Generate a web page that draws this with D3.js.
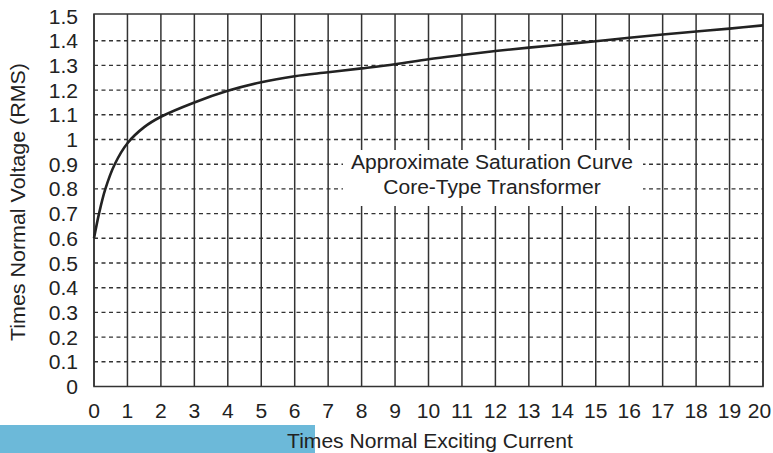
<!DOCTYPE html>
<html><head><meta charset="utf-8">
<script src="https://cdn.jsdelivr.net/npm/d3@7"></script>
<style>body{margin:0;background:#fff}svg{display:block}</style>
</head><body><svg id="c" width="773" height="453" font-family="Liberation Sans, Arial, sans-serif"></svg>
<script>
const xTicks = d3.range(0, 21);
const yTicks = [0,0.1,0.2,0.3,0.4,0.5,0.6,0.7,0.8,0.9,1,1.1,1.2,1.3,1.4,1.5];
const yTickLabels = ["0","0.1","0.2","0.3","0.4","0.5","0.6","0.7","0.8","0.9","1","1.1","1.2","1.3","1.4","1.5"];
const curveX = [0,0.15,0.34,0.62,1,1.5,2,3,4,5,6,7,8,9,10,11,12,13,14,15,16,17,18,19,20];
const curveY = [0.6,0.7,0.8,0.9,0.985,1.05,1.092,1.15,1.197,1.232,1.256,1.272,1.288,1.305,1.325,1.342,1.358,1.372,1.385,1.398,1.412,1.425,1.437,1.449,1.462];
const xTitle = "Times Normal Exciting Current";
const yTitle = "Times Normal Voltage (RMS)";
const note = ["Approximate Saturation Curve","Core-Type Transformer"];

const svg = d3.select("#c");
const x = d3.scaleLinear().domain([0,20]).range([94,763]);
const y = d3.scaleLinear().domain([0,1.5]).range([386.5,16]);
const fs = 19.5, sx = 1.08;

svg.append("rect").attr("x",0).attr("y",425).attr("width",315).attr("height",28).attr("fill","#6cb9d9");

const g = svg.append("g");
g.selectAll("line.h").data(yTicks.filter(d=>d>0 && d<1.5)).join("line")
  .attr("x1",x(0)).attr("x2",x(20)).attr("y1",d=>y(d)).attr("y2",d=>y(d))
  .attr("stroke","#333").attr("stroke-width",1.4).attr("stroke-dasharray","4,3.5");
g.selectAll("line.v").data(xTicks).join("line")
  .attr("x1",d=>x(d)).attr("x2",d=>x(d)).attr("y1",y(1.5)-2).attr("y2",y(0))
  .attr("stroke","#333").attr("stroke-width",1.5);
g.append("rect").attr("x",x(0)).attr("y",y(1.5)-2).attr("width",x(20)-x(0)).attr("height",y(0)-y(1.5)+2)
  .attr("fill","none").attr("stroke","#333").attr("stroke-width",1.5);

svg.append("rect").attr("x",343).attr("y",150).attr("width",300).attr("height",56).attr("fill","#fff");

function label(tx, ty, anchor, str, extra) {
  svg.append("text")
    .attr("transform", `translate(${tx},${ty}) ${extra||""} scale(${sx},1)`)
    .attr("text-anchor", anchor).attr("font-size", fs).attr("fill", "#222").text(str);
}
note.forEach((d,i)=>label(492, 169+i*25, "middle", d));

const pts = curveX.map((d,i)=>[d,curveY[i]]);
svg.append("path").datum(pts)
  .attr("d",d3.line().x(d=>x(d[0])).y(d=>y(d[1])).curve(d3.curveCatmullRom.alpha(0.5)))
  .attr("fill","none").attr("stroke","#222").attr("stroke-width",2.6);

yTicks.forEach((d,i)=>label(78, y(d)+7.5, "end", yTickLabels[i]));
xTicks.forEach(d=>label(Math.min(x(d), 759.5), 418, "middle", String(d)));
label(430, 447.5, "middle", xTitle);
svg.append("text").attr("transform","translate(25,202) rotate(-90) scale(1.1,1)")
  .attr("text-anchor","middle").attr("font-size",fs).attr("fill","#222").text(yTitle);
</script></body></html>
